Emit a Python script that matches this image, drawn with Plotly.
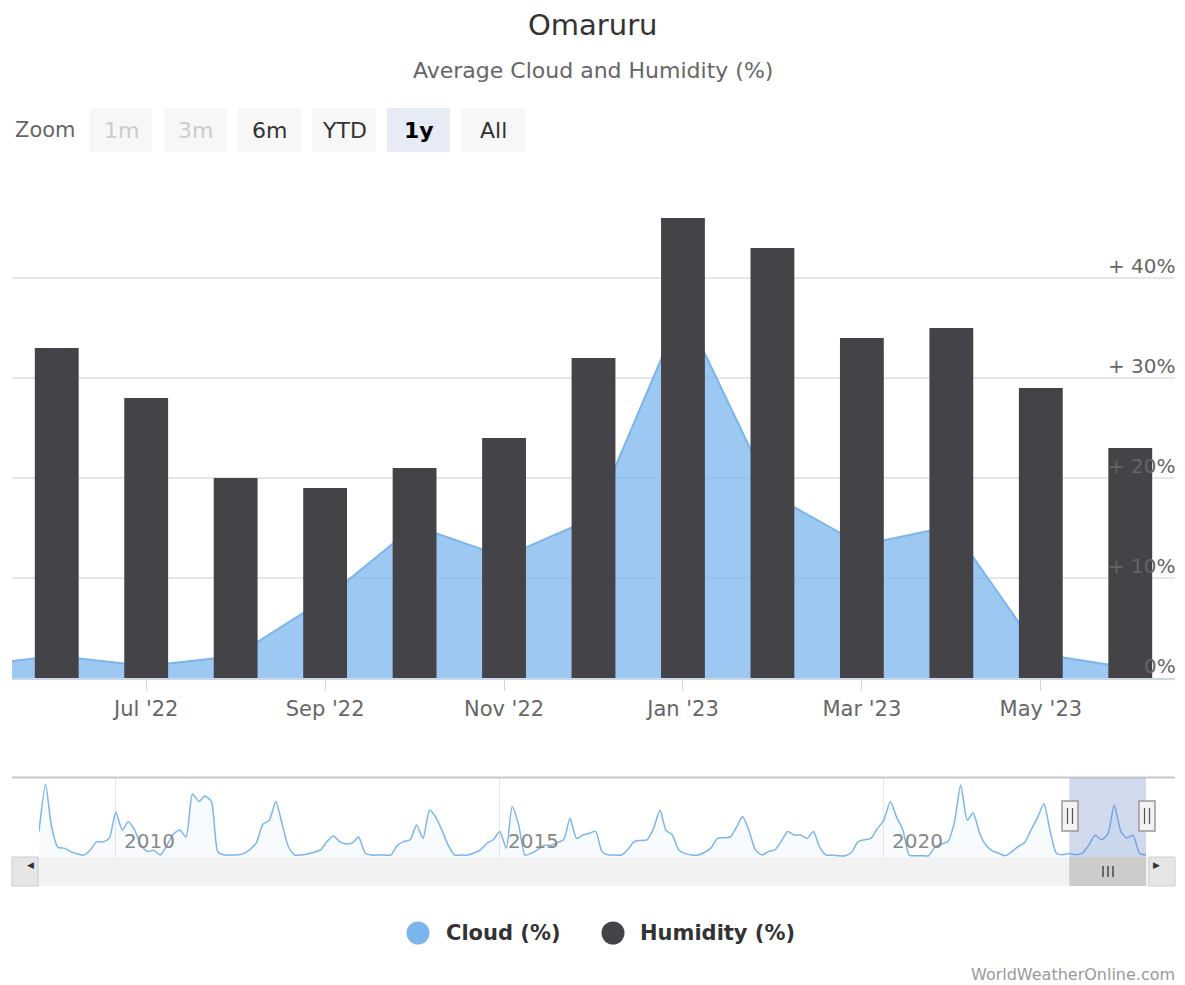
import plotly.graph_objects as go
import pandas as pd

# ---------------- data ----------------
months = ["May '22", "Jun '22", "Jul '22", "Aug '22", "Sep '22", "Oct '22", "Nov '22",
          "Dec '22", "Jan '23", "Feb '23", "Mar '23", "Apr '23", "May '23", "Jun '23"]
cloud = [1.2, 2.2, 1.2, 2.2, 7.9, 15.2, 12.1, 16.0, 37.0, 18.3, 13.3, 15.2, 2.4, 1.0]
humidity = [None, 33, 28, 20, 19, 21, 24, 32, 46, 43, 34, 35, 29, 23]
tick_months = ["Jul '22", "Sep '22", "Nov '22", "Jan '23", "Mar '23", "May '23"]
y_ticks = [0, 10, 20, 30, 40, 50]
y_labels = ["0%", "+ 10%", "+ 20%", "+ 30%", "+ 40%"]

# navigator history (monthly cloud %, Jan 2009 .. Apr 2022)
hist_2009 = [18, 52, 22, 6.5, 6, 3.5, 2, 1, 4.5, 10.5, 10.5, 13]
hist_2010 = [32, 19, 25, 19, 8, 3.5, 4.5, 1, 8, 16, 19, 14]
hist_2011 = [45, 39.5, 43.5, 39.5, 3.5, 1, 1, 1, 2, 5, 10, 23]
hist_2012 = [26, 39.5, 24, 7, 1, 1, 1.8, 3, 4.7, 10.7, 14.7, 10.7]
hist_2013 = [9, 10, 14, 2.3, 1, 1, 1, 1, 8, 10.7, 12, 22.7]
hist_2014 = [13, 33.5, 28.7, 19, 8, 1, 1, 1, 2.5, 4.7, 9.5, 12]
hist_2015 = [18, 6, 36, 22.7, 1, 2.3, 5, 8, 8, 10, 12, 27.5]
hist_2016 = [13, 15.5, 16.7, 18, 3.5, 1, 1, 1, 5, 10.7, 11.5, 12]
hist_2017 = [20, 33.5, 19, 15.5, 4.7, 2, 1, 1, 3, 6, 13, 13.5]
hist_2018 = [14, 21.5, 28.7, 18, 4.7, 1, 3.5, 4.7, 11, 18, 15.5, 15.5]
hist_2019 = [13, 18, 7, 1, 1, 0.5, 0.5, 3, 10.7, 12, 13, 20]
hist_2020 = [26, 39.5, 28.7, 19, 1, 0.5, 0.5, 0.5, 7, 9, 10.7, 24]
hist_2021 = [51.5, 26, 31.5, 16.7, 8, 4, 2.3, 0.5, 3.5, 7, 10, 19]
hist_2022 = [28, 38, 19, 2.3]
nav_start = "2009-01-01"
nav_years = ["2010", "2015", "2020"]
sel_start, sel_end = "2022-06-01", "2023-06-01"
zoom_buttons = ["1m", "3m", "6m", "YTD", "1y", "All"]

# ---------------- helpers (page pixel -> paper) ----------------
OFF = 8                      # page body margin
W, H = 1185 - OFF, 985 - OFF
ML, MR = 12 - OFF, 10


def px(x):
    return (x - OFF - ML) / (W - ML - MR)


def py(y):
    return 1 - (y - OFF) / H


pos = list(range(len(months)))
nav_vals = (hist_2009 + hist_2010 + hist_2011 + hist_2012 + hist_2013 + hist_2014 + hist_2015
            + hist_2016 + hist_2017 + hist_2018 + hist_2019 + hist_2020 + hist_2021 + hist_2022 + cloud)
nav_dates = pd.date_range(nav_start, periods=len(nav_vals), freq="MS")

CLOUD = "#7cb5ec"
HUM = "#434348"
FONT = "DejaVu Sans"

fig = go.Figure()

# cloud area (base subplot)
fig.add_trace(go.Scatter(x=pos, y=cloud, mode="lines", fill="tozeroy",
                         line=dict(color=CLOUD, width=2),
                         fillcolor="rgba(124,181,236,0.75)",
                         xaxis="x", yaxis="y", showlegend=False, hoverinfo="skip"))
# humidity bars (overlay subplot, drawn on top)
fig.add_trace(go.Bar(x=pos, y=humidity, marker=dict(color=HUM, line=dict(width=0)),
                     width=0.49, xaxis="x3", yaxis="y3", showlegend=False, hoverinfo="skip"))
# navigator
fig.add_trace(go.Scatter(x=nav_dates, y=nav_vals, mode="lines", fill="tozeroy",
                         line=dict(color=CLOUD, width=1.5, shape="spline", smoothing=0.6),
                         fillcolor="rgba(124,181,236,0.06)",
                         xaxis="x2", yaxis="y2", showlegend=False, hoverinfo="skip"))

xr = [pos[1] - 0.5, pos[-1] + 0.5]
tickvals = [months.index(m) for m in tick_months]

shapes = []
annotations = []

# title / subtitle
annotations.append(dict(text="Omaruru", x=px(592.5), y=py(25), xref="paper", yref="paper",
                        showarrow=False, xanchor="center", yanchor="middle", borderpad=0,
                        font=dict(family=FONT, size=29, color="#333333")))
annotations.append(dict(text="Average Cloud and Humidity (%)", x=px(593), y=py(71), xref="paper",
                        yref="paper", showarrow=False, xanchor="center", yanchor="middle",
                        font=dict(family=FONT, size=22, color="#666666")))

# zoom buttons
annotations.append(dict(text="Zoom", x=px(13), y=py(130), xref="paper", yref="paper",
                        showarrow=False, xanchor="left", yanchor="middle",
                        font=dict(family=FONT, size=21, color="#666666")))
btn_x = [(90, 152), (164, 227), (238, 301), (312, 376), (387, 450), (461, 525)]
for label, (a, b) in zip(zoom_buttons, btn_x):
    disabled = label in ("1m", "3m")
    selected = label == "1y"
    fill = "#e6ebf5" if selected else "#f7f7f7"
    shapes.append(dict(type="rect", xref="paper", yref="paper", x0=px(a), x1=px(b),
                       y0=py(152), y1=py(108), fillcolor=fill, line=dict(width=0), layer="below"))
    color = "#cccccc" if disabled else ("#000000" if selected else "#333333")
    txt = f"<b>{label}</b>" if selected else label
    annotations.append(dict(text=txt, x=px((a + b) / 2), y=py(130), xref="paper", yref="paper",
                            showarrow=False, xanchor="center", yanchor="middle",
                            font=dict(family=FONT, size=22, color=color)))

# y labels (drawn above bars)
for v, lab in zip(y_ticks, y_labels):
    annotations.append(dict(text=lab, x=px(1178), y=v, xref="paper", yref="y", showarrow=False,
                            xanchor="right", yanchor="middle", yshift=12,
                            font=dict(family=FONT, size=20, color="#666666")))

# navigator
shapes.append(dict(type="line", xref="paper", yref="paper", x0=px(12), x1=px(1175),
                   y0=py(777.5), y1=py(777.5), line=dict(color="#c8c8c8", width=2)))
shapes.append(dict(type="rect", xref="x2", yref="paper", x0=sel_start, x1=sel_end,
                   y0=py(857), y1=py(778), fillcolor="rgba(102,133,194,0.3)", line=dict(width=0)))
for yr in nav_years:
    annotations.append(dict(text=yr, x=f"{yr}-01-01", y=py(841), xref="x2", yref="paper",
                            showarrow=False, xanchor="left", yanchor="middle", xshift=6,
                            font=dict(family=FONT, size=20, color="#888888")))
for hx in (1070, 1147):
    shapes.append(dict(type="rect", xref="paper", yref="paper", xsizemode="pixel", xanchor=px(hx),
                       x0=-8, x1=8, y0=py(831), y1=py(801), fillcolor="#f2f2f2",
                       line=dict(color="#999999", width=1.5)))
    for dx in (-2.5, 2.5):
        shapes.append(dict(type="line", xref="paper", yref="paper", xsizemode="pixel",
                           xanchor=px(hx), x0=dx, x1=dx, y0=py(824), y1=py(808),
                           line=dict(color="#555555", width=1.2)))

# scrollbar
shapes.append(dict(type="rect", xref="paper", yref="paper", x0=px(12), x1=px(1175),
                   y0=py(886), y1=py(857), fillcolor="#f2f2f2", line=dict(width=0)))
shapes.append(dict(type="rect", xref="paper", yref="paper", x0=px(12), x1=px(38),
                   y0=py(886), y1=py(857), fillcolor="#e6e6e6", line=dict(color="#cccccc", width=1)))
shapes.append(dict(type="rect", xref="paper", yref="paper", x0=px(1149), x1=px(1175),
                   y0=py(886), y1=py(857), fillcolor="#e6e6e6", line=dict(color="#cccccc", width=1)))
shapes.append(dict(type="rect", xref="x2", yref="paper", x0=sel_start, x1=sel_end,
                   y0=py(886), y1=py(857), fillcolor="#cccccc", line=dict(width=0)))
for dx in (-5, 0, 5):
    shapes.append(dict(type="line", xref="paper", yref="paper", x0=px(1108 + dx), x1=px(1108 + dx),
                       y0=py(877), y1=py(866), line=dict(color="#333333", width=1.3)))
annotations.append(dict(text="◀", x=px(25), y=py(871.5), xref="paper", yref="paper",
                        showarrow=False, font=dict(family=FONT, size=9, color="#333333")))
annotations.append(dict(text="▶", x=px(1162), y=py(871.5), xref="paper", yref="paper",
                        showarrow=False, font=dict(family=FONT, size=9, color="#333333")))

# legend
for cx, col, lab, tx in ((418, CLOUD, "Cloud (%)", 444), (613, HUM, "Humidity (%)", 638)):
    shapes.append(dict(type="circle", xref="paper", yref="paper", xsizemode="pixel",
                       ysizemode="pixel", xanchor=px(cx), yanchor=py(933), x0=-11.5, x1=11.5,
                       y0=-11.5, y1=11.5, fillcolor=col, line=dict(width=0)))
    annotations.append(dict(text=f"<b>{lab}</b>", x=px(tx), y=py(933), xref="paper", yref="paper",
                            showarrow=False, xanchor="left", yanchor="middle",
                            font=dict(family=FONT, size=21, color="#333333")))

# credits
annotations.append(dict(text="WorldWeatherOnline.com", x=px(1177), y=py(974), xref="paper",
                        yref="paper", showarrow=False, xanchor="right", yanchor="middle",
                        font=dict(family=FONT, size=16, color="#999999")))

main_dom_y = [py(678), py(178)]

fig.update_layout(
    width=W, height=H,
    margin=dict(l=ML, r=MR, t=0, b=0, pad=0),
    paper_bgcolor="white", plot_bgcolor="rgba(0,0,0,0)",
    showlegend=False,
    font=dict(family=FONT),
    xaxis=dict(domain=[0, 1], range=xr, tickmode="array", tickvals=tickvals, ticktext=tick_months,
               showgrid=False, zeroline=False, showline=True, linecolor="#ccd6eb", linewidth=1.5,
               ticks="outside", ticklen=11, tickcolor="#ccd6eb", tickwidth=1.2,
               tickfont=dict(family=FONT, size=21, color="#666666"), anchor="y", fixedrange=True),
    yaxis=dict(domain=main_dom_y, range=[0, 50], tickmode="array", tickvals=y_ticks,
               showticklabels=False, showgrid=True, gridcolor="#e6e6e6", gridwidth=1.5,
               zeroline=False, side="right", anchor="x", fixedrange=True),
    xaxis3=dict(overlaying="x", range=xr, visible=False, anchor="y3"),
    yaxis3=dict(overlaying="y", range=[0, 50], visible=False, anchor="x3"),
    xaxis2=dict(domain=[px(39), px(1146)], range=["2009-01-01", "2023-06-01"], type="date",
                tickmode="array", tickvals=[f"{y}-01-01" for y in nav_years],
                showticklabels=False, showgrid=True, gridcolor="#e6e6e6", gridwidth=1,
                zeroline=False, showline=False, anchor="y2", fixedrange=True),
    yaxis2=dict(domain=[py(857), py(778)], range=[-0.4, 56.5], visible=False,
                showgrid=False, anchor="x2", fixedrange=True),
    shapes=shapes,
    annotations=annotations,
)

fig.write_html("out.html")
